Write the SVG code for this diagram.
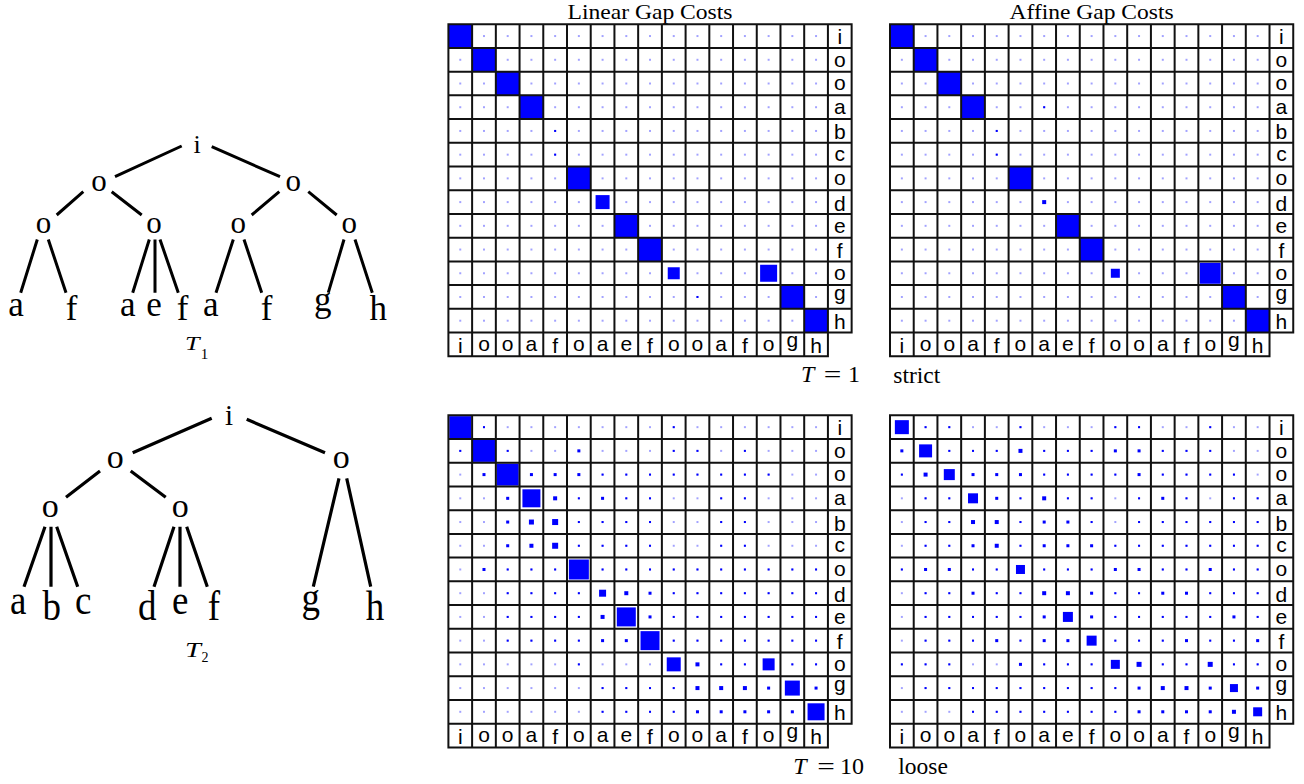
<svg xmlns="http://www.w3.org/2000/svg" width="1304" height="784" viewBox="0 0 1304 784">
  <style>
    .serif { font-family: "Liberation Serif", "Times New Roman", serif; fill: #000; }
    .it { font-style: italic; }
    .lbl { font-family: "Liberation Sans", Arial, sans-serif; font-size: 21px; text-anchor: middle; fill: #000; }
    .node { font-family: "Liberation Serif", "Times New Roman", serif; text-anchor: middle; fill: #000; }
    .edge1 { stroke: #000; stroke-width: 3; fill: none; }
    .edge2 { stroke: #000; stroke-width: 3.2; fill: none; }
    .gridline { stroke: #111; stroke-width: 2; fill: none; stroke-linecap: square; }
    .b { fill: #0000ff; }
  </style>
  <defs>
    <!-- faint centre mark present in every cell -->
    <pattern id="tiny" width="23.72" height="23.72" patternUnits="userSpaceOnUse">
      <rect x="11.26" y="11.26" width="1.2" height="1.2" fill="#0000ff"/>
    </pattern>
    <rect id="q2" class="b" x="-1" y="-1" width="2" height="2"/>
    <rect id="q3" class="b" x="-1.5" y="-1.5" width="3" height="3"/>
    <rect id="q4" class="b" x="-2" y="-2" width="4" height="4"/>
    <rect id="full" class="b" width="23.72" height="23.72"/>
    <!-- shared matrix frame: 16x13 cells, a label column and a label row -->
    <g id="grid">
      <path class="gridline" d="M0 0V332.08M23.72 0V332.08M47.44 0V332.08M71.16 0V332.08M94.88 0V332.08M118.6 0V332.08M142.32 0V332.08M166.04 0V332.08M189.76 0V332.08M213.48 0V332.08M237.2 0V332.08M260.92 0V332.08M284.64 0V332.08M308.36 0V332.08M332.08 0V332.08M355.8 0V332.08M379.52 0V332.08M403.24 0V308.36M0 0H403.24M0 23.72H403.24M0 47.44H403.24M0 71.16H403.24M0 94.88H403.24M0 118.6H403.24M0 142.32H403.24M0 166.04H403.24M0 189.76H403.24M0 213.48H403.24M0 237.2H403.24M0 260.92H403.24M0 284.64H403.24M0 308.36H403.24M0 332.08H379.52"/>
      <g class="lbl">
        <text x="391.38" y="19.5">i</text>
        <text x="391.38" y="42.32">o</text>
        <text x="391.38" y="66.04">o</text>
        <text x="391.38" y="89.76">a</text>
        <text x="391.38" y="115.28">b</text>
        <text x="391.38" y="137.2">c</text>
        <text x="391.38" y="160.92">o</text>
        <text x="391.38" y="186.44">d</text>
        <text x="391.38" y="208.36">e</text>
        <text x="391.38" y="233.88">f</text>
        <text x="391.38" y="255.8">o</text>
        <text x="391.38" y="275.72">g</text>
        <text x="391.38" y="305.04">h</text>
        <text x="11.86" y="328.4">i</text>
        <text x="35.58" y="326.66">o</text>
        <text x="59.3" y="326.66">o</text>
        <text x="83.02" y="326.66">a</text>
        <text x="106.74" y="328.56">f</text>
        <text x="130.46" y="326.66">o</text>
        <text x="154.18" y="326.66">a</text>
        <text x="177.9" y="326.66">e</text>
        <text x="201.62" y="328.56">f</text>
        <text x="225.34" y="326.66">o</text>
        <text x="249.06" y="326.66">o</text>
        <text x="272.78" y="326.66">a</text>
        <text x="296.5" y="328.56">f</text>
        <text x="320.22" y="326.66">o</text>
        <text x="343.94" y="323.16">g</text>
        <text x="367.66" y="328.56">h</text>
      </g>
    </g>
  </defs>

  <rect width="1304" height="784" fill="#fff"/>

  <!-- column headings -->
  <text class="serif" x="650" y="18.5" font-size="21" text-anchor="middle" textLength="165" lengthAdjust="spacingAndGlyphs">Linear Gap Costs</text>
  <text class="serif" x="1091.6" y="18.5" font-size="21" text-anchor="middle" textLength="164" lengthAdjust="spacingAndGlyphs">Affine Gap Costs</text>

  <!-- row captions -->
  <g id="caption-strict">
    <text class="serif it" x="801" y="382.3" font-size="24">T</text>
    <text class="serif" transform="translate(832.5,382.3) scale(1.3,1)" font-size="24" text-anchor="middle">=</text>
    <text class="serif" x="854" y="382.3" font-size="24" text-anchor="middle">1</text>
    <text class="serif" x="893.3" y="383.3" font-size="23.5">strict</text>
  </g>
  <g id="caption-loose">
    <text class="serif it" x="793.3" y="773.5" font-size="24">T</text>
    <text class="serif" transform="translate(826,773.5) scale(1.3,1)" font-size="24" text-anchor="middle">=</text>
    <text class="serif" x="840" y="773.5" font-size="24">10</text>
    <text class="serif" x="898.3" y="774" font-size="23.5">loose</text>
  </g>

  <!-- T = 1, linear gap costs -->
  <g id="matrix-linear-strict" transform="translate(448.4,24.2)">
    <rect width="379.52" height="308.36" fill="url(#tiny)"/>
    <use href="#full" x="0" y="0"/>
    <use href="#full" x="23.72" y="23.72"/>
    <use href="#full" x="47.44" y="47.44"/>
    <use href="#full" x="71.16" y="71.16"/>
    <use href="#full" x="118.6" y="142.32"/>
    <use href="#full" x="166.04" y="189.76"/>
    <use href="#full" x="189.76" y="213.48"/>
    <use href="#full" x="332.08" y="260.92"/>
    <use href="#full" x="355.8" y="284.64"/>
    <rect class="b" x="147.18" y="170.9" width="14" height="14"/>
    <rect class="b" x="219.34" y="243.06" width="12" height="12"/>
    <rect class="b" x="311.72" y="240.56" width="17" height="17"/>
    <use href="#q2" x="106.74" y="106.74"/>
    <use href="#q2" x="106.74" y="130.46"/>
    <use href="#q2" x="249.06" y="272.78"/>
    <use href="#grid"/>
  </g>

  <!-- T = 1, affine gap costs -->
  <g id="matrix-affine-strict" transform="translate(890,24.2)">
    <rect width="379.52" height="308.36" fill="url(#tiny)"/>
    <use href="#full" x="0" y="0"/>
    <use href="#full" x="23.72" y="23.72"/>
    <use href="#full" x="47.44" y="47.44"/>
    <use href="#full" x="71.16" y="71.16"/>
    <use href="#full" x="118.6" y="142.32"/>
    <use href="#full" x="166.04" y="189.76"/>
    <use href="#full" x="189.76" y="213.48"/>
    <use href="#full" x="332.08" y="260.92"/>
    <use href="#full" x="355.8" y="284.64"/>
    <rect class="b" x="220.84" y="244.56" width="9" height="9"/>
    <rect class="b" x="309.72" y="238.56" width="21" height="21"/>
    <use href="#q2" x="154.18" y="83.02"/>
    <use href="#q2" x="106.74" y="106.74"/>
    <use href="#q2" x="106.74" y="130.46"/>
    <use href="#q4" x="154.18" y="177.9"/>
    <use href="#grid"/>
  </g>

  <!-- T = 10, linear gap costs -->
  <g id="matrix-linear-loose" transform="translate(448.4,415.3)">
    <rect width="379.52" height="308.36" fill="url(#tiny)"/>
    <rect class="b" x="0.86" y="0.86" width="22" height="22"/>
    <rect class="b" x="24.58" y="24.58" width="22" height="22"/>
    <rect class="b" x="48.3" y="48.3" width="22" height="22"/>
    <rect class="b" x="74.02" y="74.02" width="18" height="18"/>
    <rect class="b" x="80.52" y="104.24" width="5" height="5"/>
    <rect class="b" x="103.74" y="103.74" width="6" height="6"/>
    <rect class="b" x="103.74" y="127.46" width="6" height="6"/>
    <rect class="b" x="120.46" y="144.18" width="20" height="20"/>
    <rect class="b" x="150.68" y="174.4" width="7" height="7"/>
    <rect class="b" x="168.4" y="192.12" width="19" height="19"/>
    <rect class="b" x="192.12" y="215.84" width="19" height="19"/>
    <rect class="b" x="218.34" y="242.06" width="14" height="14"/>
    <rect class="b" x="314.22" y="243.06" width="12" height="12"/>
    <rect class="b" x="336.44" y="265.28" width="15" height="15"/>
    <rect class="b" x="359.16" y="288" width="17" height="17"/>
    <g transform="translate(0,11.86)">
      <use href="#q2" x="35.58"/><use href="#q2" x="225.34"/>
    </g>
    <g transform="translate(0,35.58)">
      <use href="#q2" x="11.86"/><use href="#q2" x="59.3"/><use href="#q3" x="130.46"/><use href="#q2" x="225.34"/><use href="#q2" x="249.06"/><use href="#q2" x="296.5"/>
    </g>
    <g transform="translate(0,59.3)">
      <use href="#q3" x="35.58"/><use href="#q3" x="83.02"/><use href="#q3" x="106.74"/><use href="#q3" x="130.46"/><use href="#q2" x="154.18"/><use href="#q2" x="177.9"/><use href="#q2" x="201.62"/><use href="#q2" x="225.34"/><use href="#q2" x="249.06"/><use href="#q2" x="272.78"/><use href="#q2" x="296.5"/><use href="#q2" x="320.22"/>
    </g>
    <g transform="translate(0,83.02)">
      <use href="#q3" x="59.3"/><use href="#q4" x="106.74"/><use href="#q2" x="130.46"/><use href="#q3" x="154.18"/><use href="#q2" x="177.9"/><use href="#q2" x="201.62"/><use href="#q2" x="272.78"/><use href="#q2" x="296.5"/>
    </g>
    <g transform="translate(0,106.74)">
      <use href="#q3" x="59.3"/><use href="#q2" x="130.46"/><use href="#q2" x="154.18"/><use href="#q2" x="177.9"/><use href="#q2" x="201.62"/><use href="#q2" x="272.78"/><use href="#q2" x="296.5"/>
    </g>
    <g transform="translate(0,130.46)">
      <use href="#q3" x="59.3"/><use href="#q4" x="83.02"/><use href="#q2" x="130.46"/><use href="#q2" x="154.18"/><use href="#q2" x="177.9"/><use href="#q2" x="201.62"/><use href="#q2" x="272.78"/><use href="#q2" x="296.5"/>
    </g>
    <g transform="translate(0,154.18)">
      <use href="#q3" x="35.58"/><use href="#q2" x="59.3"/><use href="#q2" x="83.02"/><use href="#q2" x="106.74"/><use href="#q2" x="154.18"/><use href="#q2" x="177.9"/><use href="#q2" x="201.62"/><use href="#q2" x="225.34"/><use href="#q2" x="249.06"/><use href="#q2" x="272.78"/><use href="#q2" x="296.5"/><use href="#q2" x="320.22"/><use href="#q2" x="343.94"/><use href="#q2" x="367.66"/>
    </g>
    <g transform="translate(0,177.9)">
      <use href="#q2" x="59.3"/><use href="#q2" x="83.02"/><use href="#q2" x="106.74"/><use href="#q2" x="130.46"/><use href="#q4" x="177.9"/><use href="#q3" x="201.62"/><use href="#q2" x="225.34"/><use href="#q2" x="249.06"/><use href="#q2" x="272.78"/><use href="#q2" x="296.5"/><use href="#q2" x="320.22"/><use href="#q2" x="343.94"/><use href="#q2" x="367.66"/>
    </g>
    <g transform="translate(0,201.62)">
      <use href="#q2" x="59.3"/><use href="#q2" x="83.02"/><use href="#q2" x="106.74"/><use href="#q2" x="130.46"/><use href="#q4" x="154.18"/><use href="#q3" x="201.62"/><use href="#q2" x="225.34"/><use href="#q2" x="249.06"/><use href="#q2" x="272.78"/><use href="#q2" x="296.5"/><use href="#q2" x="320.22"/><use href="#q2" x="343.94"/><use href="#q2" x="367.66"/>
    </g>
    <g transform="translate(0,225.34)">
      <use href="#q2" x="59.3"/><use href="#q2" x="83.02"/><use href="#q2" x="106.74"/><use href="#q2" x="130.46"/><use href="#q3" x="154.18"/><use href="#q3" x="177.9"/><use href="#q2" x="225.34"/><use href="#q2" x="249.06"/><use href="#q2" x="272.78"/><use href="#q2" x="296.5"/><use href="#q2" x="320.22"/><use href="#q2" x="343.94"/><use href="#q2" x="367.66"/>
    </g>
    <g transform="translate(0,249.06)">
      <use href="#q2" x="130.46"/><use href="#q4" x="249.06"/><use href="#q2" x="272.78"/><use href="#q2" x="296.5"/><use href="#q2" x="343.94"/><use href="#q2" x="367.66"/>
    </g>
    <g transform="translate(0,272.78)">
      <use href="#q2" x="154.18"/><use href="#q2" x="177.9"/><use href="#q2" x="201.62"/><use href="#q2" x="225.34"/><use href="#q4" x="249.06"/><use href="#q4" x="272.78"/><use href="#q4" x="296.5"/><use href="#q3" x="320.22"/><use href="#q3" x="367.66"/>
    </g>
    <g transform="translate(0,296.5)">
      <use href="#q2" x="154.18"/><use href="#q2" x="177.9"/><use href="#q2" x="201.62"/><use href="#q2" x="225.34"/><use href="#q3" x="249.06"/><use href="#q3" x="272.78"/><use href="#q3" x="296.5"/><use href="#q3" x="320.22"/><use href="#q3" x="343.94"/>
    </g>
    <use href="#grid"/>
  </g>

  <!-- T = 10, affine gap costs -->
  <g id="matrix-affine-loose" transform="translate(890,415.3)">
    <rect width="379.52" height="308.36" fill="url(#tiny)"/>
    <rect class="b" x="4.86" y="4.86" width="14" height="14"/>
    <rect class="b" x="29.08" y="29.08" width="13" height="13"/>
    <rect class="b" x="53.8" y="53.8" width="11" height="11"/>
    <rect class="b" x="78.02" y="78.02" width="10" height="10"/>
    <rect class="b" x="125.96" y="149.68" width="9" height="9"/>
    <rect class="b" x="172.9" y="196.62" width="10" height="10"/>
    <rect class="b" x="196.62" y="220.34" width="10" height="10"/>
    <rect class="b" x="220.84" y="244.56" width="9" height="9"/>
    <rect class="b" x="246.56" y="246.56" width="5" height="5"/>
    <rect class="b" x="317.72" y="246.56" width="5" height="5"/>
    <rect class="b" x="339.94" y="268.78" width="8" height="8"/>
    <rect class="b" x="363.16" y="292" width="9" height="9"/>
    <g transform="translate(0,11.86)">
      <use href="#q2" x="35.58"/><use href="#q2" x="59.3"/><use href="#q2" x="130.46"/><use href="#q2" x="225.34"/><use href="#q2" x="249.06"/><use href="#q2" x="320.22"/>
    </g>
    <g transform="translate(0,35.58)">
      <use href="#q3" x="11.86"/><use href="#q2" x="59.3"/><use href="#q2" x="83.02"/><use href="#q2" x="106.74"/><use href="#q4" x="130.46"/><use href="#q2" x="154.18"/><use href="#q2" x="177.9"/><use href="#q2" x="201.62"/><use href="#q3" x="225.34"/><use href="#q3" x="249.06"/><use href="#q2" x="272.78"/><use href="#q2" x="296.5"/><use href="#q2" x="320.22"/>
    </g>
    <g transform="translate(0,59.3)">
      <use href="#q2" x="11.86"/><use href="#q4" x="35.58"/><use href="#q3" x="83.02"/><use href="#q3" x="106.74"/><use href="#q3" x="130.46"/><use href="#q2" x="154.18"/><use href="#q2" x="177.9"/><use href="#q2" x="201.62"/><use href="#q2" x="225.34"/><use href="#q3" x="249.06"/><use href="#q2" x="272.78"/><use href="#q2" x="296.5"/><use href="#q2" x="320.22"/><use href="#q2" x="343.94"/>
    </g>
    <g transform="translate(0,83.02)">
      <use href="#q2" x="35.58"/><use href="#q2" x="59.3"/><use href="#q3" x="106.74"/><use href="#q2" x="130.46"/><use href="#q4" x="154.18"/><use href="#q2" x="177.9"/><use href="#q2" x="201.62"/><use href="#q2" x="249.06"/><use href="#q3" x="272.78"/><use href="#q2" x="296.5"/><use href="#q2" x="343.94"/><use href="#q2" x="367.66"/>
    </g>
    <g transform="translate(0,106.74)">
      <use href="#q2" x="35.58"/><use href="#q2" x="59.3"/><use href="#q4" x="83.02"/><use href="#q4" x="106.74"/><use href="#q2" x="130.46"/><use href="#q3" x="154.18"/><use href="#q3" x="177.9"/><use href="#q2" x="201.62"/><use href="#q2" x="249.06"/><use href="#q2" x="272.78"/><use href="#q2" x="296.5"/><use href="#q2" x="320.22"/><use href="#q2" x="343.94"/><use href="#q2" x="367.66"/>
    </g>
    <g transform="translate(0,130.46)">
      <use href="#q2" x="35.58"/><use href="#q2" x="59.3"/><use href="#q3" x="83.02"/><use href="#q4" x="106.74"/><use href="#q2" x="130.46"/><use href="#q3" x="154.18"/><use href="#q3" x="177.9"/><use href="#q3" x="201.62"/><use href="#q2" x="225.34"/><use href="#q2" x="249.06"/><use href="#q2" x="272.78"/><use href="#q2" x="296.5"/><use href="#q2" x="320.22"/><use href="#q2" x="343.94"/><use href="#q2" x="367.66"/>
    </g>
    <g transform="translate(0,154.18)">
      <use href="#q2" x="11.86"/><use href="#q3" x="35.58"/><use href="#q3" x="59.3"/><use href="#q2" x="83.02"/><use href="#q2" x="106.74"/><use href="#q2" x="154.18"/><use href="#q2" x="177.9"/><use href="#q2" x="201.62"/><use href="#q3" x="225.34"/><use href="#q3" x="249.06"/><use href="#q2" x="272.78"/><use href="#q2" x="296.5"/><use href="#q3" x="320.22"/><use href="#q2" x="343.94"/><use href="#q2" x="367.66"/>
    </g>
    <g transform="translate(0,177.9)">
      <use href="#q2" x="35.58"/><use href="#q2" x="59.3"/><use href="#q3" x="83.02"/><use href="#q2" x="106.74"/><use href="#q2" x="130.46"/><use href="#q4" x="154.18"/><use href="#q4" x="177.9"/><use href="#q3" x="201.62"/><use href="#q2" x="225.34"/><use href="#q2" x="249.06"/><use href="#q3" x="272.78"/><use href="#q3" x="296.5"/><use href="#q2" x="320.22"/><use href="#q2" x="343.94"/><use href="#q2" x="367.66"/>
    </g>
    <g transform="translate(0,201.62)">
      <use href="#q2" x="35.58"/><use href="#q2" x="59.3"/><use href="#q2" x="83.02"/><use href="#q2" x="106.74"/><use href="#q2" x="130.46"/><use href="#q3" x="154.18"/><use href="#q3" x="201.62"/><use href="#q2" x="225.34"/><use href="#q2" x="249.06"/><use href="#q2" x="272.78"/><use href="#q2" x="296.5"/><use href="#q2" x="320.22"/><use href="#q3" x="343.94"/><use href="#q2" x="367.66"/>
    </g>
    <g transform="translate(0,225.34)">
      <use href="#q2" x="35.58"/><use href="#q2" x="59.3"/><use href="#q2" x="83.02"/><use href="#q3" x="106.74"/><use href="#q2" x="130.46"/><use href="#q3" x="154.18"/><use href="#q3" x="177.9"/><use href="#q2" x="225.34"/><use href="#q2" x="249.06"/><use href="#q2" x="272.78"/><use href="#q3" x="296.5"/><use href="#q2" x="320.22"/><use href="#q2" x="343.94"/><use href="#q3" x="367.66"/>
    </g>
    <g transform="translate(0,249.06)">
      <use href="#q2" x="11.86"/><use href="#q2" x="35.58"/><use href="#q2" x="59.3"/><use href="#q3" x="130.46"/><use href="#q2" x="154.18"/><use href="#q2" x="177.9"/><use href="#q2" x="201.62"/><use href="#q2" x="272.78"/><use href="#q2" x="296.5"/><use href="#q2" x="343.94"/><use href="#q2" x="367.66"/>
    </g>
    <g transform="translate(0,272.78)">
      <use href="#q2" x="35.58"/><use href="#q2" x="59.3"/><use href="#q2" x="83.02"/><use href="#q2" x="106.74"/><use href="#q2" x="130.46"/><use href="#q2" x="154.18"/><use href="#q2" x="177.9"/><use href="#q2" x="201.62"/><use href="#q2" x="225.34"/><use href="#q3" x="249.06"/><use href="#q4" x="272.78"/><use href="#q4" x="296.5"/><use href="#q3" x="320.22"/><use href="#q3" x="367.66"/>
    </g>
    <g transform="translate(0,296.5)">
      <use href="#q2" x="83.02"/><use href="#q2" x="106.74"/><use href="#q2" x="130.46"/><use href="#q2" x="154.18"/><use href="#q2" x="177.9"/><use href="#q2" x="201.62"/><use href="#q2" x="225.34"/><use href="#q3" x="249.06"/><use href="#q3" x="272.78"/><use href="#q3" x="296.5"/><use href="#q3" x="320.22"/><use href="#q4" x="343.94"/>
    </g>
    <use href="#grid"/>
  </g>

  <!-- tree T1: edges -->
  <g id="t1-edges" class="edge1">
    <path d="M181.7 146L115 176.7M211.7 146.7L280 176.7"/>
    <path d="M83.3 191.7L56.7 215M111.7 191.7L141.7 215M279.3 191.7L251.7 215M308.3 191.7L336.7 215"/>
    <path d="M37.3 239.5L20.7 292.7M48.3 239.5L66 292.7"/>
    <path d="M149.3 239.5L132.7 292.7M155 239.5L155 292.7M160 239.5L178.3 292.7"/>
    <path d="M233.3 239.5L216 292.7M244 239.5L261.7 292.7"/>
    <path d="M344 239.5L328.3 292.7M355 239.5L372.3 292.7"/>
  </g>
  <!-- tree T1: nodes -->
  <g id="t1-root"><text class="node" x="197" y="153" font-size="26">i</text></g>
  <g id="t1-n1"><text class="node" x="99" y="190.5" font-size="31">o</text></g>
  <g id="t1-n2"><text class="node" x="293.3" y="190.5" font-size="31">o</text></g>
  <g id="t1-n11"><text class="node" x="43.5" y="233.3" font-size="31">o</text></g>
  <g id="t1-n12"><text class="node" x="154" y="233.3" font-size="31">o</text></g>
  <g id="t1-n21"><text class="node" x="238.2" y="233.3" font-size="31">o</text></g>
  <g id="t1-n22"><text class="node" x="349.2" y="233.3" font-size="31">o</text></g>
  <g id="t1-leaf-a1"><text class="node" x="16" y="315.5" font-size="35">a</text></g>
  <g id="t1-leaf-f1"><text class="node" x="71.7" y="320" font-size="35">f</text></g>
  <g id="t1-leaf-a2"><text class="node" x="127.7" y="315.5" font-size="35">a</text></g>
  <g id="t1-leaf-e"><text class="node" x="154" y="315.5" font-size="35">e</text></g>
  <g id="t1-leaf-f2"><text class="node" x="182.7" y="320" font-size="35">f</text></g>
  <g id="t1-leaf-a3"><text class="node" x="210.7" y="315.5" font-size="35">a</text></g>
  <g id="t1-leaf-f3"><text class="node" x="266.7" y="320" font-size="35">f</text></g>
  <g id="t1-leaf-g"><text class="node" x="322.7" y="311" font-size="35">g</text></g>
  <g id="t1-leaf-h"><text class="node" x="378.3" y="320" font-size="35">h</text></g>
  <g id="t1-name">
    <text class="serif it" transform="translate(185,350) scale(1.45,1)" font-size="18">T</text>
    <text class="serif" x="204.5" y="359" font-size="15" text-anchor="middle">1</text>
  </g>

  <!-- tree T2: edges -->
  <g id="t2-edges" class="edge2">
    <path d="M211.7 418.3L132.7 452.7M246.7 419.3L325 452.7"/>
    <path d="M100 471L66 497.3M130.7 471L165.7 497.3"/>
    <path d="M339 478.3L313.3 586.7M346.7 478.3L370.7 586.7"/>
    <path d="M45 526.7L24 586.7M51 526.7L51 586.7M56.7 526.7L77.7 586.7"/>
    <path d="M174 526.7L154 586.7M180 526.7L180 586.7M186.7 526.7L207.3 586.7"/>
  </g>
  <!-- tree T2: nodes -->
  <g id="t2-root"><text class="node" x="229" y="425" font-size="29">i</text></g>
  <g id="t2-n1"><text class="node" x="115.3" y="468.3" font-size="34">o</text></g>
  <g id="t2-n2"><text class="node" x="341.3" y="468.3" font-size="34">o</text></g>
  <g id="t2-n11"><text class="node" x="50.3" y="517.3" font-size="34">o</text></g>
  <g id="t2-n12"><text class="node" x="180.3" y="517.3" font-size="34">o</text></g>
  <g id="t2-leaf-a"><text class="node" transform="translate(18.3,614) scale(0.88,1)" font-size="42">a</text></g>
  <g id="t2-leaf-b"><text class="node" transform="translate(51.7,620) scale(0.88,1)" font-size="42">b</text></g>
  <g id="t2-leaf-c"><text class="node" transform="translate(83.3,614) scale(0.88,1)" font-size="42">c</text></g>
  <g id="t2-leaf-d"><text class="node" transform="translate(147.3,620) scale(0.88,1)" font-size="42">d</text></g>
  <g id="t2-leaf-e"><text class="node" transform="translate(180.3,614) scale(0.88,1)" font-size="42">e</text></g>
  <g id="t2-leaf-f"><text class="node" transform="translate(214,620) scale(0.88,1)" font-size="42">f</text></g>
  <g id="t2-leaf-g"><text class="node" transform="translate(310.7,611) scale(0.88,1)" font-size="42">g</text></g>
  <g id="t2-leaf-h"><text class="node" transform="translate(375,620) scale(0.88,1)" font-size="42">h</text></g>
  <g id="t2-name">
    <text class="serif it" transform="translate(185,656.7) scale(1.3,1)" font-size="22">T</text>
    <text class="serif" x="205" y="661.7" font-size="14" text-anchor="middle">2</text>
  </g>
</svg>
